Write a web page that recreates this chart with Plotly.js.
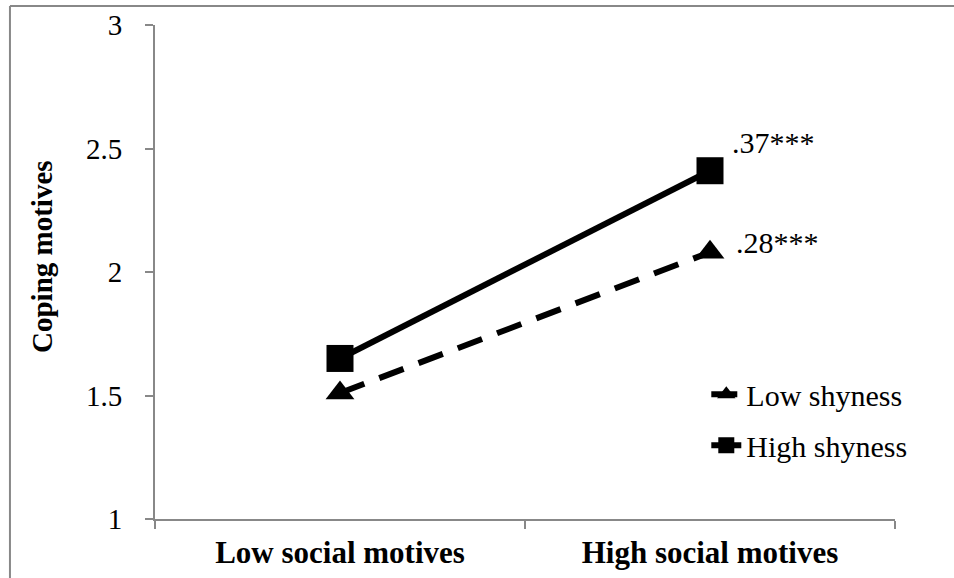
<!DOCTYPE html>
<html>
<head>
<meta charset="utf-8">
<script src="https://cdn.plot.ly/plotly-3.0.1.min.js"></script>
<style>html,body{margin:0;padding:0;background:#fff;}#chart{width:954px;height:578px;}</style>
</head>
<body>
<div id="chart"></div>
<script>
const categories = ["Low social motives", "High social motives"];
const lowShyness = [1.51, 2.08];
const highShyness = [1.65, 2.41];
const seriesNames = ["Low shyness", "High shyness"];
const slopeLabels = [".28***", ".37***"];
const yTicks = [1, 1.5, 2, 2.5, 3];
const yTitle = "Coping motives";

const font = "Liberation Serif, Times New Roman, serif";

const traces = [
  {
    x: categories, y: lowShyness, name: seriesNames[0], type: "scatter", mode: "lines+markers",
    legendgroup: "a",
    line: {color: "#000", width: 6, dash: "26px,16px"},
    marker: {symbol: "triangle-up", size: 25, color: "#000"}
  },
  {
    x: categories, y: highShyness, name: seriesNames[1], type: "scatter", mode: "lines+markers",
    legendgroup: "b",
    line: {color: "#000", width: 6},
    marker: {symbol: "square", size: 27, color: "#000"}
  }
];

const layout = {
  width: 954, height: 578,
  margin: {l: 155, r: 59, t: 25, b: 59},
  paper_bgcolor: "#fff", plot_bgcolor: "#fff",
  font: {family: font, size: 30, color: "#000"},
  showlegend: true,
  legend: {
    x: 0.745, y: 0.305, xanchor: "left", yanchor: "top",
    font: {family: font, size: 30, color: "#000"},
    tracegroupgap: 9, bgcolor: "rgba(0,0,0,0)"
  },
  xaxis: {
    type: "category", range: [-0.5, 1.5],
    showline: true, linecolor: "#888", linewidth: 2,
    ticks: "outside", ticklen: 8, tickcolor: "#888", tickwidth: 2,
    ticklabelstandoff: 5,
    tickson: "boundaries", showgrid: false, zeroline: false,
    tickfont: {family: font, size: 31, color: "#000", weight: "bold"}
  },
  yaxis: {
    range: [1, 3], tickvals: yTicks, ticktext: yTicks.map(String),
    showline: true, linecolor: "#888", linewidth: 2,
    ticks: "outside", ticklen: 8, tickcolor: "#888", tickwidth: 2,
    ticklabelstandoff: 17,
    showgrid: false, zeroline: false,
    tickfont: {family: font, size: 29, color: "#000"}
  },
  annotations: [
    {x: -0.153, y: 0.532, xref: "paper", yref: "paper", text: "<b>" + yTitle + "</b>", textangle: -90,
     showarrow: false, xanchor: "center", yanchor: "middle", font: {family: font, size: 29, color: "#000"}},
    {x: 1, y: highShyness[1], xref: "x", yref: "y", text: slopeLabels[1], showarrow: false,
     xanchor: "left", yanchor: "middle", xshift: 20, yshift: 28, font: {family: font, size: 30, color: "#000"}},
    {x: 1, y: lowShyness[1], xref: "x", yref: "y", text: slopeLabels[0], showarrow: false,
     xanchor: "left", yanchor: "middle", xshift: 24, yshift: 10, font: {family: font, size: 30, color: "#000"}}
  ],
  shapes: [
    {type: "line", xref: "paper", yref: "paper", x0: -0.196, x1: 1.2, y0: 1.0385, y1: 1.0385, line: {color: "#888", width: 2}},
    {type: "line", xref: "paper", yref: "paper", x0: -0.196, x1: -0.196, y0: 1.0385, y1: -0.2, line: {color: "#888", width: 2}}
  ]
};

Plotly.newPlot("chart", traces, layout, {displayModeBar: false, staticPlot: true});
</script>
</body>
</html>
